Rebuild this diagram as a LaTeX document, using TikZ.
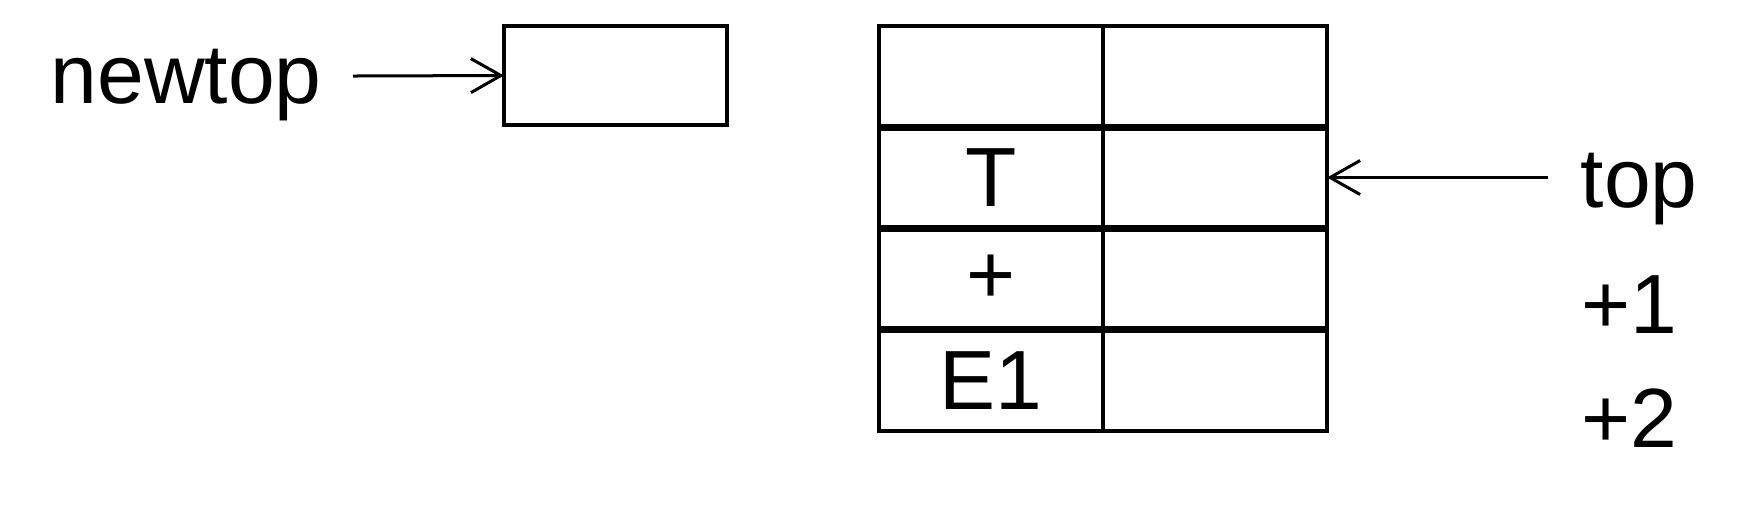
\documentclass[tikz,border=0pt]{standalone}
\usepackage{fontspec}
\setmainfont{Liberation Sans}
\usetikzlibrary{arrows.meta}

\begin{document}
\begin{tikzpicture}[
  x=0.01cm, y=-0.01cm,
  cell/.style={
    draw=black,
    line width=0.04cm,
    minimum width=2.24cm,
    minimum height=1.01cm,
    inner sep=0pt,
    outer sep=0pt,
    font=\fontsize{23.9pt}{28pt}\selectfont
  },
  label/.style={inner sep=0pt, font=\fontsize{23.9pt}{28pt}\selectfont},
  pointer/.style={-{Straight Barb[length=0.3cm,width=0.34cm]}, line width=0.03cm}
]
\useasboundingbox (0,0) rectangle (1747,517);

% new top cell
\node[cell, minimum width=2.23cm, minimum height=0.99cm] (nt) at (615.5,75.5) {};
\node[label, anchor=base west] (ntlab) at (50,103) {newtop};
\coordinate (nta) at (353,76);
\draw[pointer] (nta) -- (nt.west);

% stack, left column
\node[cell] (s1) at (991,76.5) {};
\node[cell] (s2) at (991,177.5) {T};
\node[cell] (s3) at (991,279) {+};
\node[cell] (s4) at (991,380.5) {E1};

% stack, right column
\node[cell] (s1r) at (1215,76.5) {};
\node[cell] (s2r) at (1215,177.5) {};
\node[cell] (s3r) at (1215,279) {};
\node[cell] (s4r) at (1215,380.5) {};

% thicker row borders
\draw[line width=0.07cm] (s1.south west) -- (s1r.south east);
\draw[line width=0.07cm] (s2.south west) -- (s2r.south east);
\draw[line width=0.07cm] (s3.south west) -- (s3r.south east);

% top pointer and offsets
\node[label, anchor=base west] (toplab) at (1580,207) {top};
\coordinate (topa) at (1548,177.5);
\draw[pointer] (topa) -- (s2r.east);
\node[label, anchor=base west] (off1) at (1581,333) {+1};
\node[label, anchor=base west] (off2) at (1581,447) {+2};

\end{tikzpicture}
\end{document}
